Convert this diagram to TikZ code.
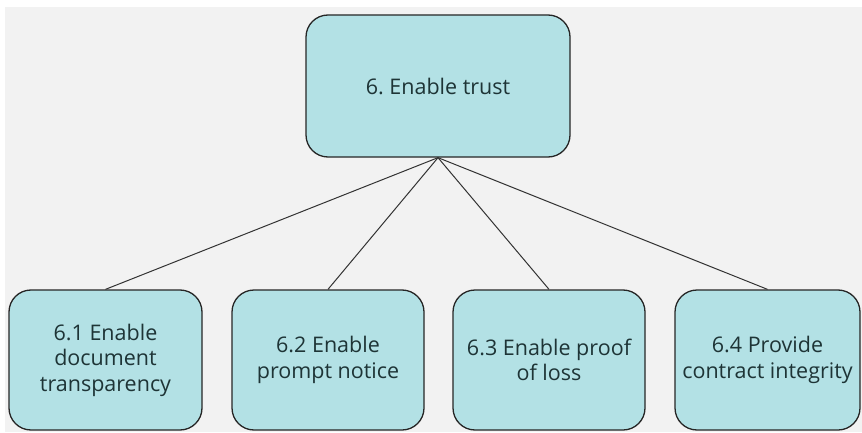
\documentclass[tikz,border=0pt]{standalone}
\usepackage{fontspec}
\setmainfont{Open Sans}
\usetikzlibrary{positioning}
\definecolor{boxfill}{HTML}{B3E1E5}
\definecolor{boxtext}{HTML}{1E3436}
\definecolor{bggray}{HTML}{F2F2F2}
\frenchspacing
\begin{document}
\begin{tikzpicture}[
    x=1pt, y=1pt,
    box/.style={draw=black!85, fill=boxfill, rounded corners=22pt, line width=1.3pt, text=boxtext, align=center, inner sep=1pt, font=\fontsize{21.5}{25.5}\selectfont},
    link/.style={draw=black!80, line width=1pt},
]
\useasboundingbox (0,0) rectangle (862,432);
\fill[bggray] (5,0) rectangle (862,425);

% Goal
\node[box, minimum width=264pt, minimum height=142pt] (trust) at (438,346) {6. Enable trust};

% Sub-goals
\node[box, minimum width=193pt, minimum height=140pt] (doc) at (105.5,72) {6.1 Enable\\document\\transparency};
\node[box, minimum width=192pt, minimum height=140pt] (notice) at (328,72) {6.2 Enable\\prompt notice};
\node[box, minimum width=192pt, minimum height=140pt] (loss) at (549,72) {6.3 Enable proof\\of loss};
\node[box, minimum width=185pt, minimum height=140pt] (integ) at (767.5,72) {6.4 Provide\\contract integrity};

% Links
\draw[link] (trust.south) -- (doc.north);
\draw[link] (trust.south) -- (notice.north);
\draw[link] (trust.south) -- (loss.north);
\draw[link] (trust.south) -- (integ.north);
\end{tikzpicture}
\end{document}
